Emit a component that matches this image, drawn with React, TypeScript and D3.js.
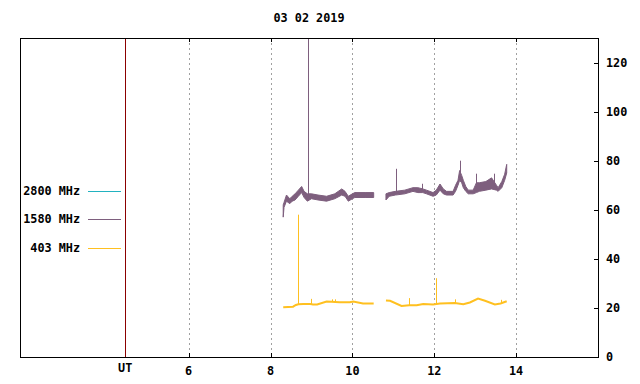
import React from 'react';
import * as d3 from 'd3';

// 1580 MHz envelope (hours UT, low / high sfu); NaN marks the data gap
const t1580 = [8.31, 8.33, 8.39, 8.47, 8.53, 8.6, 8.68, 8.76, 8.82, 8.9, 9.0, 9.16, 9.37, 9.57, 9.74, 9.82, 9.9, 10.0, 10.06, 10.31, 10.52,
  10.6,
  10.82, 10.9, 11.05, 11.28, 11.48, 11.6, 11.72, 11.81, 11.97, 12.05, 12.14, 12.22, 12.3, 12.46, 12.52, 12.58, 12.62, 12.67, 12.71, 12.77, 12.83, 12.95, 13.03, 13.1, 13.26, 13.4, 13.52, 13.56, 13.65, 13.72, 13.77];
const lo1580 = [57, 61, 63.5, 62.5, 63.5, 64, 65.5, 67, 65, 63.5, 64.5, 64, 63.5, 64.5, 66, 65.5, 63.5, 64.5, 65, 65, 65,
  NaN,
  64, 65.5, 66, 66.5, 67.5, 67, 67, 66.5, 65.5, 66, 68, 66.5, 66, 66, 67.5, 70, 72, 71, 69, 67.5, 66.5, 66.5, 67, 67.5, 68, 68.5, 68, 67.5, 69, 72, 75];
const hi1580 = [62, 63, 66, 64.5, 65.5, 66.5, 68, 69.5, 67.5, 66.5, 66.5, 66, 65.5, 66.5, 68.5, 67.5, 65.5, 66.5, 67, 67, 67,
  NaN,
  66.5, 67, 67.5, 68, 69, 69, 68.5, 68, 67, 68, 70.5, 68.5, 67.5, 67.5, 70, 72, 76, 74, 72, 69.5, 68, 68, 71, 71, 71.5, 73, 70, 69, 71.5, 74.5, 78.5];
// spikes: [hour, base, top]
const spikes1580 = [[8.92, 65, 131], [11.07, 66.5, 76.7], [11.69, 68, 70.6], [12.64, 73, 80], [13.03, 69, 74.7], [13.46, 70, 74.7]];

// 403 MHz
const t403 = [8.31, 8.55, 8.62, 8.68, 8.8, 8.97, 9.04, 9.14, 9.37, 9.49, 9.58, 9.69, 9.94, 10.02, 10.26, 10.52,
  10.6,
  10.82, 10.92, 11.2, 11.39, 11.57, 11.73, 11.97, 12.14, 12.5, 12.71, 12.87, 13.07, 13.24, 13.48, 13.62, 13.77];
const v403 = [20.3, 20.5, 21.2, 21.5, 21.6, 21.6, 21.4, 21.4, 22.6, 22.5, 22.4, 22.3, 22.3, 22.6, 21.8, 21.8,
  NaN,
  23.0, 22.9, 20.8, 21.1, 21.1, 21.6, 21.4, 21.8, 22.0, 21.5, 22.2, 23.8, 22.9, 21.4, 21.8, 22.7];
const spikes403 = [[8.68, 21.5, 58], [9.0, 21.6, 23.7], [9.49, 22.5, 23.5], [9.58, 22.4, 23.5], [11.39, 21.1, 24], [12.04, 21.5, 32.1], [12.5, 22, 23.5], [13.62, 21.8, 23.3]];

const xTicks = [6, 8, 10, 12, 14];
const yTicks = [0, 20, 40, 60, 80, 100, 120];
const utHour = 4.45;
const legend = [
  { label: '2800 MHz', color: '#22b2c0', y: 191 },
  { label: '1580 MHz', color: '#7e5f7e', y: 219 },
  { label: '403 MHz', color: '#ffc020', y: 248 },
];
const title = '03 02 2019';

const L = 20, R = 598, T = 38, B = 357;
const font = '"DejaVu Sans Mono", monospace';

export default function App() {
  const x = d3.scaleLinear().domain([1.88, 16]).range([L, R]);
  const y = d3.scaleLinear().domain([0, 130]).range([B, T]);

  const band = d3.area<number>()
    .defined(i => !isNaN(lo1580[i]))
    .x(i => x(t1580[i]))
    .y0(i => y(lo1580[i]))
    .y1(i => y(hi1580[i]));
  const line403 = d3.line<number>()
    .defined(i => !isNaN(v403[i]))
    .x(i => x(t403[i]))
    .y(i => y(v403[i]));

  const px = (v: number) => Math.round(v) + 0.5;

  return (
    <svg width={640} height={384} style={{ position: 'absolute', left: 0, top: 0, background: '#fff' }}
      fontFamily={font} fontWeight="bold" fontSize={11.8}>
      <defs>
        <clipPath id="plot"><rect x={L} y={T} width={R - L} height={B - T} /></clipPath>
      </defs>
      <text x={309} y={18} textAnchor="middle" dominantBaseline="central">{title}</text>

      {xTicks.map(t => (
        <g key={t}>
          <line x1={px(x(t))} x2={px(x(t))} y1={T} y2={B} stroke="#a0a0a0" strokeDasharray="2,3" />
          <line x1={px(x(t))} x2={px(x(t))} y1={B} y2={B - 4} stroke="#000" />
          <line x1={px(x(t))} x2={px(x(t))} y1={T} y2={T + 4} stroke="#000" />
          <text x={x(t)} y={371} textAnchor="middle" dominantBaseline="central">{t}</text>
        </g>
      ))}
      {yTicks.map(v => (
        <g key={v}>
          <line x1={R - 4} x2={R} y1={px(y(v))} y2={px(y(v))} stroke="#000" />
          <text x={606} y={y(v)} dominantBaseline="central">{v}</text>
        </g>
      ))}

      <line x1={px(x(utHour))} x2={px(x(utHour))} y1={T} y2={B} stroke="#8b0000" />
      <text x={x(utHour)} y={368} textAnchor="middle" dominantBaseline="central">UT</text>

      <g clipPath="url(#plot)">
        <path d={band(d3.range(t1580.length)) || ''} fill="#7e5f7e" stroke="#7e5f7e" strokeWidth={1} />
        {spikes1580.map(([t, b, top], i) => (
          <line key={i} x1={px(x(t))} x2={px(x(t))} y1={y(b)} y2={y(top)} stroke="#7e5f7e" />
        ))}
        <path d={line403(d3.range(t403.length)) || ''} fill="none" stroke="#ffc020" strokeWidth={2} />
        {spikes403.map(([t, b, top], i) => (
          <line key={i} x1={px(x(t))} x2={px(x(t))} y1={y(b)} y2={y(top)} stroke="#ffc020" />
        ))}
      </g>

      {legend.map(d => (
        <g key={d.label}>
          <text x={80} y={d.y} textAnchor="end" dominantBaseline="central">{d.label}</text>
          <line x1={88} x2={121} y1={d.y + 0.5} y2={d.y + 0.5} stroke={d.color} />
        </g>
      ))}

      <rect x={L + 0.5} y={T + 0.5} width={R - L} height={B - T} fill="none" stroke="#000" />
    </svg>
  );
}
